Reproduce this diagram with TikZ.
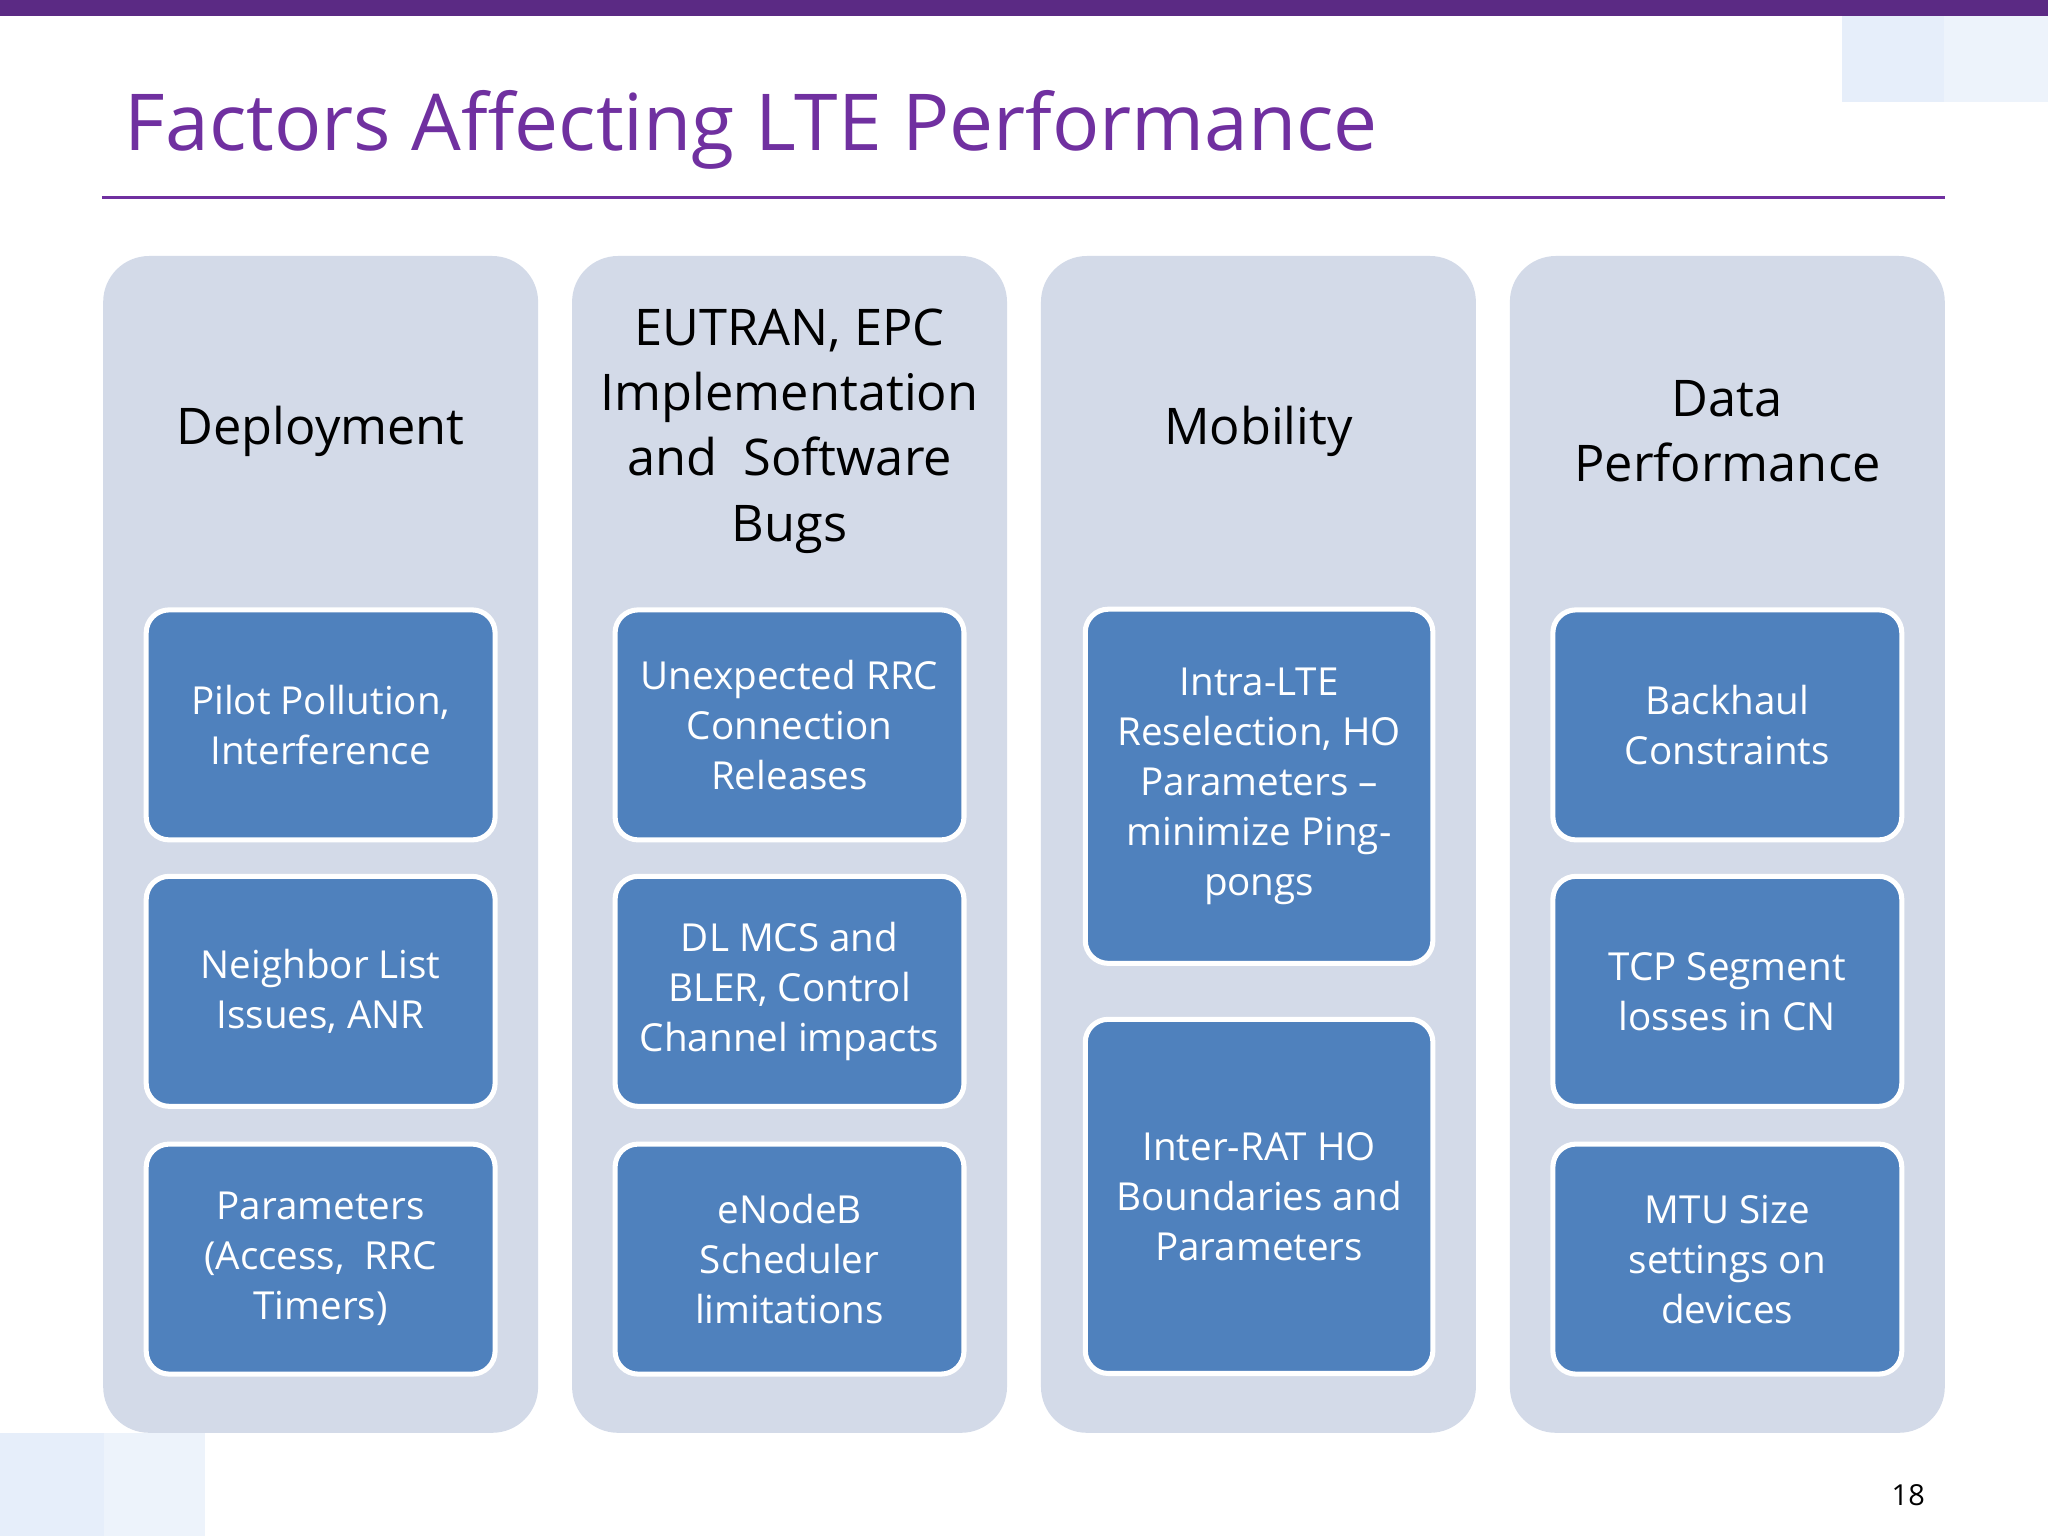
\documentclass[tikz,border=0pt]{standalone}
\usepackage{fontspec}
\setmainfont{Open Sans}
\definecolor{purp}{HTML}{5B2A84}
\definecolor{titlep}{HTML}{7030A0}
\definecolor{colbg}{HTML}{D3DAE8}
\definecolor{boxb}{HTML}{4F81BD}
\definecolor{pale}{HTML}{E6EEFA}
\tikzset{
 col/.style={fill=colbg,rounded corners=10pt},
 hdr/.style={align=center,font=\fontsize{11}{14.2}\selectfont,inner sep=0},
 bx/.style={fill=boxb,draw=white,line width=1.1pt,rounded corners=5pt,text=white,align=center,font=\fontsize{8.4}{10.9}\selectfont,inner sep=0}
}
\begin{document}
\begin{tikzpicture}[x=0.01cm,y=-0.01cm]
\useasboundingbox (0,0) rectangle (1568,1176);
\fill[purp] (0,0) rectangle (1568,12);
\fill[pale] (1410,12) rectangle (1568,78);
\fill[pale!70] (1488,12) rectangle (1568,78);
\fill[pale] (0,1097) rectangle (157,1176);
\fill[pale!70] (80,1097) rectangle (157,1176);
\node[anchor=base west,text=titlep,font=\fontsize{17.1}{22}\selectfont,inner sep=0] (title) at (95,115) {Factors Affecting LTE Performance};
\draw[titlep,line width=0.6pt] (78,151) -- (1489,151);
\node[anchor=base,font=\fontsize{6.3}{8}\selectfont,inner sep=0] (pn) at (1461,1153) {18};
\foreach \x/\n in {79/c1,438/c2,797/c3,1156/c4}
  \fill[col] (\x,196) rectangle ++(333,901);
% headers
\node[hdr] (h1) at (245.5,330) {Deployment};
\node[hdr] (h2) at (604.5,330) {EUTRAN, EPC\\Implementation\\and~ Software\\Bugs};
\node[hdr] (h3) at (963.5,330) {Mobility};
\node[hdr] (h4) at (1322.5,330) {Data\\Performance};
% boxes
\foreach \x/\t/\a/\b/\c in {
 112/1/{Pilot Pollution,\\Interference}/{Neighbor List\\Issues, ANR}/{Parameters\\(Access,~ RRC\\Timers)},
 471/2/{Unexpected RRC\\Connection\\Releases}/{DL MCS and\\BLER, Control\\Channel impacts}/{eNodeB\\Scheduler\\limitations},
 1189/4/{Backhaul\\Constraints}/{TCP Segment\\losses in CN}/{MTU Size\\settings on\\devices}}{
 \node[bx,minimum width=2.67cm,minimum height=1.76cm] (b\t a) at (\x+133.5,555) {\a};
 \node[bx,minimum width=2.67cm,minimum height=1.76cm] (b\t b) at (\x+133.5,759) {\b};
 \node[bx,minimum width=2.67cm,minimum height=1.76cm] (b\t c) at (\x+133.5,964) {\c};
}
\node[bx,minimum width=2.66cm,minimum height=2.71cm] (b3a) at (964,602) {Intra-LTE\\Reselection, HO\\Parameters –\\minimize Ping-\\pongs};
\node[bx,minimum width=2.66cm,minimum height=2.71cm] (b3b) at (964,916) {Inter-RAT HO\\Boundaries and\\Parameters};
\end{tikzpicture}
\end{document}
